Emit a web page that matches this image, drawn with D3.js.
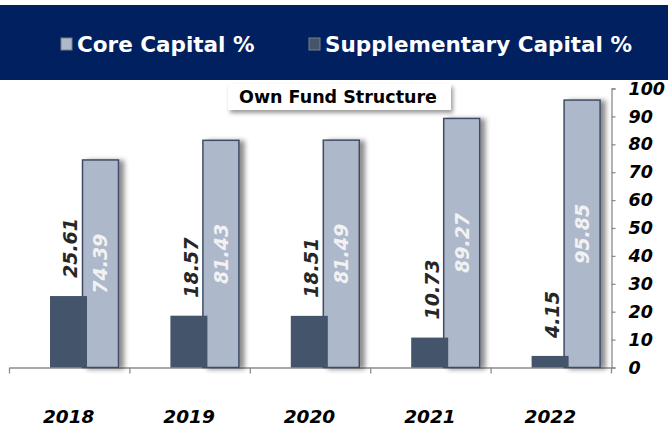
<!DOCTYPE html>
<html>
<head>
<meta charset="utf-8">
<script src="https://cdn.jsdelivr.net/npm/d3@7"></script>
<style>
  body { margin: 0; background: #fff; }
  svg text { font-family: "DejaVu Sans", Verdana, sans-serif; }
</style>
</head>
<body>
<svg id="chart" width="668" height="427"></svg>
<script>
// data
var years = ["2018", "2019", "2020", "2021", "2022"];
var coreCapital = [74.39, 81.43, 81.49, 89.27, 95.85];
var supplementaryCapital = [25.61, 18.57, 18.51, 10.73, 4.15];
var yTicks = [0, 10, 20, 30, 40, 50, 60, 70, 80, 90, 100];
var seriesNames = ["Core Capital %", "Supplementary Capital %"];

var lightFill = "#adb9ca", darkFill = "#44546a";

var svg = d3.select("#chart");

var defs = svg.append("defs");
defs.append("filter").attr("id", "barShadow")
  .attr("x", "-20%").attr("y", "-5%").attr("width", "160%").attr("height", "110%")
  .append("feDropShadow")
  .attr("dx", 5).attr("dy", 1).attr("stdDeviation", 2.5)
  .attr("flood-color", "#000").attr("flood-opacity", 0.45);
defs.append("filter").attr("id", "boxShadow")
  .attr("x", "-10%").attr("y", "-30%").attr("width", "120%").attr("height", "180%")
  .append("feDropShadow")
  .attr("dx", 2).attr("dy", 3).attr("stdDeviation", 2)
  .attr("flood-color", "#000").attr("flood-opacity", 0.4);

var x = d3.scaleBand().domain(years).range([9.5, 611.5]);
var y = d3.scaleLinear().domain([0, 100]).range([367.5, 88.5]);

// x axis: baseline with dividers between categories
var xAxis = d3.axisBottom(x).tickSize(0).tickFormat("");
var gx = svg.append("g").attr("transform", "translate(0," + y(0) + ")").call(xAxis);
gx.select(".domain").attr("stroke", "#8c8c8c").attr("stroke-width", 1.3);
var dividers = years.map(function(d) { return x(d); }).concat([x.range()[1]]);
gx.selectAll(".divider").data(dividers).enter().append("line")
  .attr("x1", function(d) { return d; }).attr("x2", function(d) { return d; })
  .attr("y1", 0).attr("y2", 6)
  .attr("stroke", "#8c8c8c").attr("stroke-width", 1.3);

// y axis on the right
var yAxis = d3.axisRight(y).tickValues(yTicks).tickSize(4).tickPadding(13);
var gy = svg.append("g").attr("transform", "translate(611.5,0)").call(yAxis);
gy.select(".domain").attr("stroke", "#8c8c8c").attr("stroke-width", 1.3);
gy.selectAll(".tick line").attr("stroke", "#8c8c8c").attr("stroke-width", 1.3);
gy.selectAll(".tick text")
  .attr("font-family", "DejaVu Sans, sans-serif")
  .attr("font-size", 17.5).attr("font-weight", "bold").attr("font-style", "italic")
  .attr("fill", "#000");

// bars
var bars = svg.append("g");
bars.selectAll(".core").data(years).enter().append("rect")
  .attr("x", function(d) { return x(d) + 73; })
  .attr("width", 36)
  .attr("y", function(d, i) { return y(coreCapital[i]); })
  .attr("height", function(d, i) { return y(0) - y(coreCapital[i]); })
  .attr("fill", lightFill).attr("stroke", "#3e4c66").attr("stroke-width", 1.5)
  .attr("filter", "url(#barShadow)");
bars.selectAll(".supp").data(years).enter().append("rect")
  .attr("x", function(d) { return x(d) + 40.5; })
  .attr("width", 37)
  .attr("y", function(d, i) { return y(supplementaryCapital[i]); })
  .attr("height", function(d, i) { return y(0) - y(supplementaryCapital[i]); })
  .attr("fill", darkFill);

// value labels
svg.selectAll(".suppLabel").data(years).enter().append("text")
  .attr("transform", function(d, i) {
    return "translate(" + (x(d) + 61) + "," + (y(supplementaryCapital[i]) - 18) + ") rotate(-90)";
  })
  .attr("dy", "0.36em")
  .attr("font-size", 19).attr("font-weight", "bold").attr("font-style", "italic")
  .attr("fill", "#262626")
  .text(function(d, i) { return supplementaryCapital[i].toFixed(2); });
svg.selectAll(".coreLabel").data(years).enter().append("text")
  .attr("transform", function(d, i) {
    return "translate(" + (x(d) + 91) + "," + ((y(coreCapital[i]) + y(0)) / 2) + ") rotate(-90)";
  })
  .attr("dy", "0.36em").attr("text-anchor", "middle")
  .attr("font-size", 19).attr("font-weight", "bold").attr("font-style", "italic")
  .attr("fill", "#f2f2f2")
  .text(function(d, i) { return coreCapital[i].toFixed(2); });

// year labels
svg.selectAll(".year").data(years).enter().append("text")
  .attr("x", function(d) { return x(d) + x.bandwidth() / 2 - 1; })
  .attr("y", 423)
  .attr("text-anchor", "middle")
  .attr("font-size", 18.5).attr("font-weight", "bold").attr("font-style", "italic")
  .attr("fill", "#000")
  .text(function(d) { return d; });

// title box
svg.append("rect").attr("x", 228).attr("y", 84).attr("width", 223).attr("height", 26)
  .attr("fill", "#fff").attr("filter", "url(#boxShadow)");
svg.append("text").attr("x", 239).attr("y", 103)
  .attr("font-size", 17.5).attr("font-weight", "bold").attr("fill", "#000")
  .text("Own Fund Structure");

// header band with legend
svg.append("rect").attr("x", 0).attr("y", 5).attr("width", 668).attr("height", 75)
  .attr("fill", "#002060");
var legend = svg.append("g");
var legendX = [61, 309];
var legendFill = [lightFill, darkFill];
seriesNames.forEach(function(name, i) {
  legend.append("rect").attr("x", legendX[i]).attr("y", 38).attr("width", 11).attr("height", 12)
    .attr("fill", legendFill[i]).attr("stroke", "#7f7f7f").attr("stroke-width", 1);
  legend.append("text").attr("x", legendX[i] + 16).attr("y", 52)
    .attr("font-size", 21.5).attr("font-weight", "bold").attr("fill", "#fff")
    .text(name);
});
</script>
</body>
</html>
